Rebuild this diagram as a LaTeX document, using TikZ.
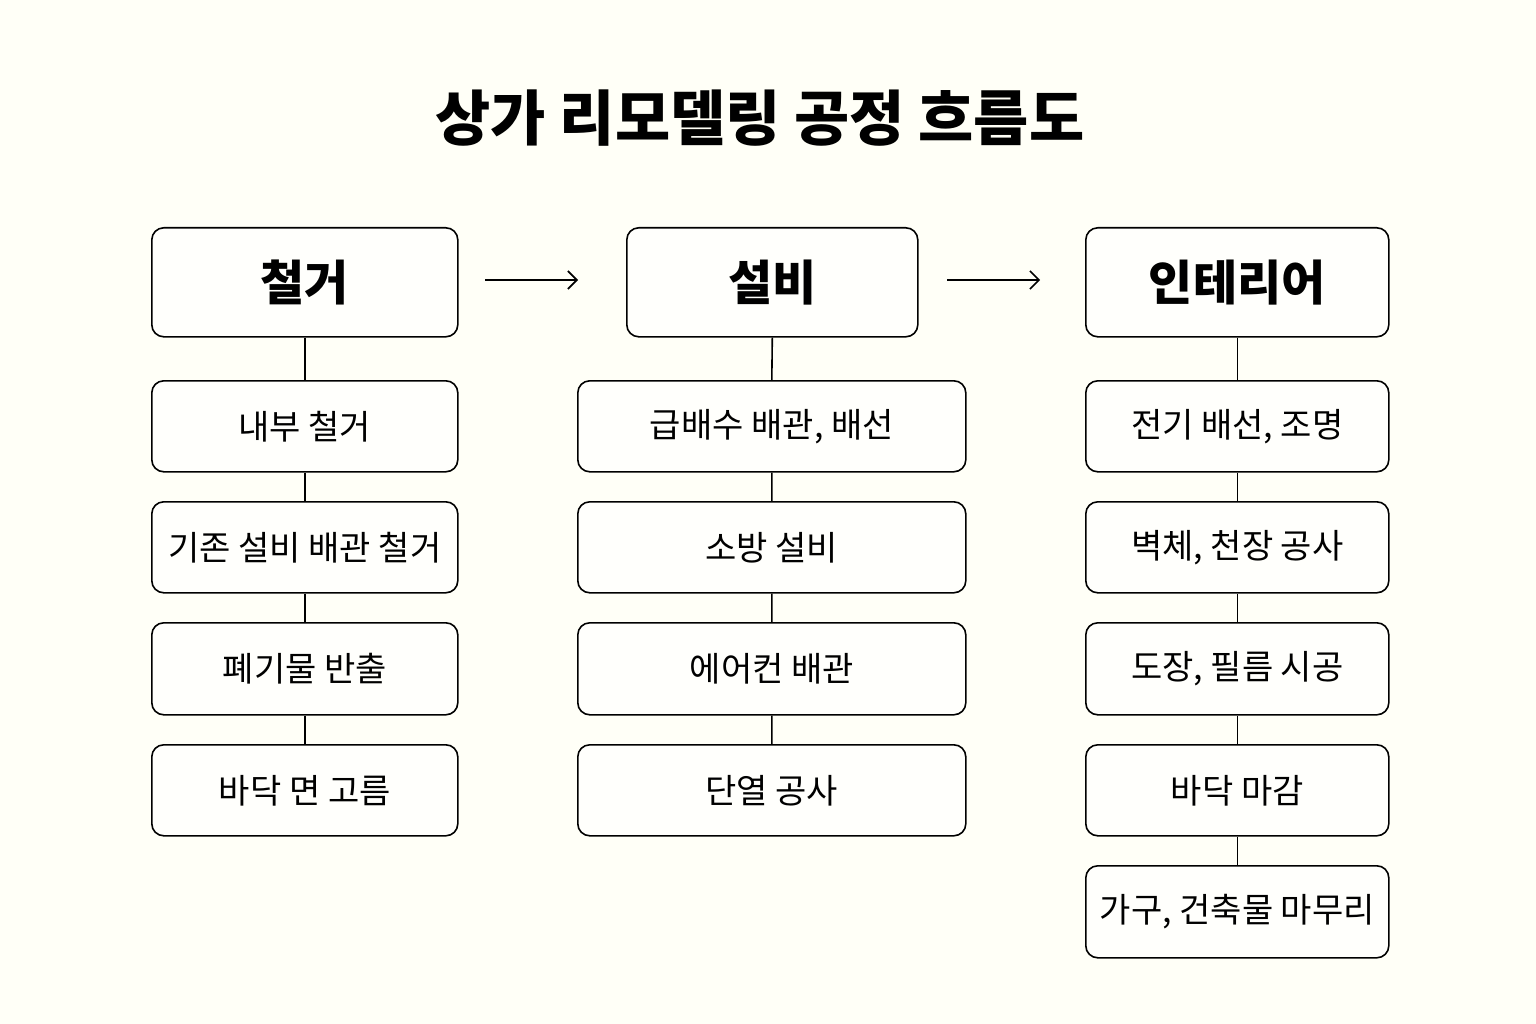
\documentclass[tikz,border=0pt]{standalone}
\usepackage{fontspec}
\setmainfont{Noto Sans CJK KR}
\newfontfamily\krbold{Noto Sans CJK KR Bold}
\begin{document}
\begin{tikzpicture}[x=1pt,y=-1pt,
  box/.style={draw,line width=1.6pt,rounded corners=12pt,fill=white!98!yellow!60!white,inner sep=0pt,anchor=north west},
  itemtxt/.style={font=\fontsize{34}{40}\selectfont},
  headtxt/.style={font=\fontsize{48}{56}\selectfont\bfseries},
  link/.style={line width=1.6pt},
  flow/.style={line width=1.6pt,-{Straight Barb[length=9pt,width=18pt]}}]
\usetikzlibrary{arrows.meta}
\fill[white!97!yellow] (0,0) rectangle (1536,1024);
\useasboundingbox (0,0) rectangle (1536,1024);
\node[font=\fontsize{60}{70}\selectfont\bfseries] (title) at (760,118) {상가 리모델링 공정 흐름도};
% helper macro for boxes
\newcommand{\kbox}[7]{\node[box,minimum width=#4pt,minimum height=#5pt,#7] (#1) at (#2,#3) {#6};}
% column 1
\kbox{h1}{151}{227}{306}{109}{철거}{headtxt}
\kbox{a1}{151}{380}{306}{91}{내부 철거}{itemtxt}
\kbox{a2}{151}{501}{306}{91}{기존 설비 배관 철거}{itemtxt}
\kbox{a3}{151}{622}{306}{92}{폐기물 반출}{itemtxt}
\kbox{a4}{151}{744}{306}{91}{바닥 면 고름}{itemtxt}
% column 2
\kbox{h2}{626}{227}{291}{109}{설비}{headtxt}
\kbox{b1}{577}{380}{388}{91}{급배수 배관, 배선}{itemtxt}
\kbox{b2}{577}{501}{388}{91}{소방 설비}{itemtxt}
\kbox{b3}{577}{622}{388}{92}{에어컨 배관}{itemtxt}
\kbox{b4}{577}{744}{388}{91}{단열 공사}{itemtxt}
% column 3
\kbox{h3}{1085}{227}{303}{109}{인테리어}{headtxt}
\kbox{c1}{1085}{380}{303}{91}{전기 배선, 조명}{itemtxt}
\kbox{c2}{1085}{501}{303}{91}{벽체, 천장 공사}{itemtxt}
\kbox{c3}{1085}{622}{303}{92}{도장, 필름 시공}{itemtxt}
\kbox{c4}{1085}{744}{303}{91}{바닥 마감}{itemtxt}
\kbox{c5}{1085}{865}{303}{92}{가구, 건축물 마무리}{itemtxt}
\draw[link] (h1.south) -- (a1.north) (a1) -- (a2) (a2) -- (a3) (a3) -- (a4);
\draw[link] (h2.south) -- (b1.north) (b1) -- (b2) (b2) -- (b3) (b3) -- (b4);
\draw[link] (h3.south) -- (c1.north) (c1) -- (c2) (c2) -- (c3) (c3) -- (c4) (c4) -- (c5);
\coordinate (p1) at (485,280); \coordinate (q1) at (578,280);
\coordinate (p2) at (947,280); \coordinate (q2) at (1040,280);
\draw[flow] (p1) -- (q1);
\draw[flow] (p2) -- (q2);
\end{tikzpicture}
\end{document}
